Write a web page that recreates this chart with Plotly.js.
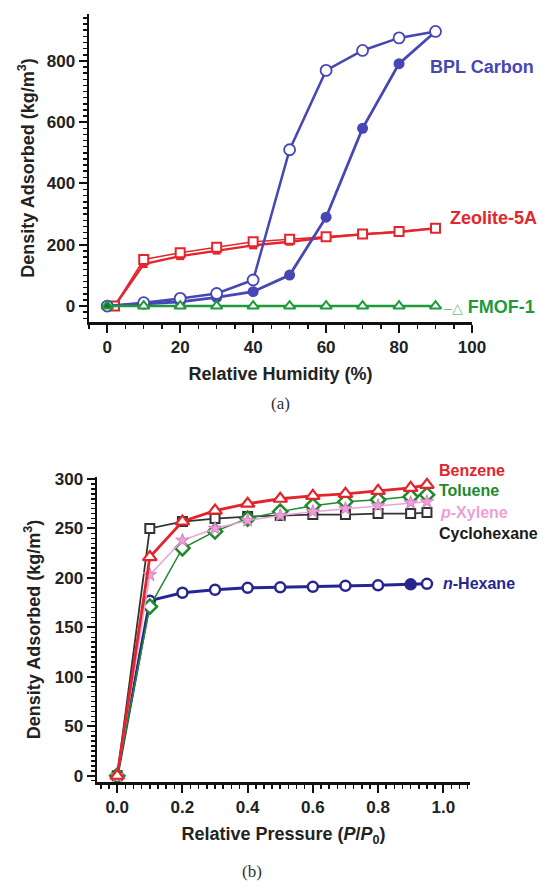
<!DOCTYPE html>
<html>
<head>
<meta charset="utf-8">
<script src="https://cdn.plot.ly/plotly-3.0.1.min.js"></script>
<style>html,body{margin:0;padding:0;background:#fff;}#chart{width:539px;height:885px;}</style>
</head>
<body>
<div id="chart"></div>
<script>
// ---- Panel (a): water adsorption vs relative humidity ----
const rh = [0, 10, 20, 30, 40, 50, 60, 70, 80, 90];
const bplAdsorption = [0, 6, 14, 28, 47, 101, 290, 580, 791, 896];
const bplDesorption = [0, 11, 25, 41, 85, 510, 769, 834, 875, 896];
const zeoRh = [2, 10, 20, 30, 40, 50, 60, 70, 80, 90];
const zeoAdsorption = [0, 137, 163, 181, 198, 210, 224, 234, 242, 254];
const zeoDesorption = [0, 152, 174, 192, 210, 218, 226, 235, 243, 254];
const fmof = [0, 0, 0, 0, 0, 0, 0, 0, 0, 0];

// ---- Panel (b): hydrocarbon adsorption vs relative pressure ----
const pp0 = [0, 0.1, 0.2, 0.3, 0.4, 0.5, 0.6, 0.7, 0.8, 0.9, 0.95];
const benzene = [0, 221, 257, 268, 275, 280, 283, 285, 288, 291, 294];
const toluene = [0, 171, 230, 247, 260, 267, 273, 277, 279, 282, 284];
const pXylene = [0, 203, 238, 250, 258, 263, 267, 270, 273, 276, 277];
const cyclohexane = [0, 250, 257, 260, 262, 263, 264, 264, 265, 265, 266];
const nHexane = [0, 177, 185, 188, 190, 190.5, 191, 192, 192.5, 193.5, 194];

const blueA = '#4646b4', redA = '#e5252d', greenA = '#1e9a3c';
const redB = '#e3242b', greenB = '#1d8a2c', pinkB = '#eba0d6', blackB = '#333333', navyB = '#26268e';

const traces = [
  // panel a
  {x: zeoRh, y: zeoAdsorption, xaxis:'x', yaxis:'y', mode:'lines+markers',
   line:{color:redA, width:2.5}, marker:{symbol:'square', size:8, color:redA}},
  {x: zeoRh, y: zeoDesorption, xaxis:'x', yaxis:'y', mode:'lines+markers',
   line:{color:redA, width:1.5}, marker:{symbol:'square', size:9, color:'#ffffff', line:{width:2, color:redA}}},
  {x: rh, y: bplAdsorption, xaxis:'x', yaxis:'y', mode:'lines+markers',
   line:{color:blueA, width:2.8}, marker:{symbol:'circle', size:11, color:blueA}},
  {x: rh, y: bplDesorption, xaxis:'x', yaxis:'y', mode:'lines+markers',
   line:{color:blueA, width:2.5}, marker:{symbol:'circle', size:11, color:'#ffffff', line:{width:1.8, color:blueA}}},
  {x: rh, y: fmof, xaxis:'x', yaxis:'y', mode:'lines+markers',
   line:{color:greenA, width:2.5},
   marker:{symbol:'triangle-up', size:10, color: rh.map((v,i)=> i===0 ? '#1a6e2c' : '#ffffff'), line:{width:2, color:greenA}}},
  // panel b
  {x: pp0, y: cyclohexane, xaxis:'x2', yaxis:'y2', mode:'lines+markers',
   line:{color:blackB, width:1.8}, marker:{symbol:'square', size:9, color:'#ffffff', line:{width:2, color:blackB}}},
  {x: pp0, y: nHexane, xaxis:'x2', yaxis:'y2', mode:'lines+markers',
   line:{color:navyB, width:3}, marker:{symbol:'circle', size:10, color: pp0.map((v,i)=> i===9 ? navyB : '#ffffff'), line:{width:2.5, color:navyB}}},
  {x: pp0, y: toluene, xaxis:'x2', yaxis:'y2', mode:'lines+markers',
   line:{color:greenB, width:1.5}, marker:{symbol:'diamond', size:11, color:'#ffffff', line:{width:2.5, color:greenB}}},
  {x: pp0, y: pXylene, xaxis:'x2', yaxis:'y2', mode:'lines+markers',
   line:{color:pinkB, width:1.5}, marker:{symbol:'star', size:10, color:pinkB, line:{width:1, color:'#d67fc0'}}},
  {x: pp0, y: benzene, xaxis:'x2', yaxis:'y2', mode:'lines+markers',
   line:{color:redB, width:2.8}, marker:{symbol:'triangle-up', size:12, color:'#ffffff', line:{width:2.2, color:redB}}}
];

const tickFont = {family:'Liberation Sans, Arial, sans-serif', size:17, color:'#222', weight:700};
const titleFont = {family:'Liberation Sans, Arial, sans-serif', size:18, color:'#222', weight:700};
function ax(extra) {
  return Object.assign({
    showline:true, linewidth:2.5, linecolor:'#111', mirror:false,
    ticks:'outside', ticklen:8, tickwidth:2, tickcolor:'#111',
    showgrid:false, zeroline:false, tickfont:tickFont, fixedrange:true
  }, extra);
}
const minorTick = d => ({dtick:d, ticks:'outside', ticklen:4, tickwidth:1.5, tickcolor:'#111', showgrid:false});

const W = 539, H = 885;
const px = v => v / W, py = v => 1 - v / H;
const labFontA = c => ({family:'Liberation Sans, Arial, sans-serif', size:18, color:c, weight:700});
const labFontB = c => ({family:'Liberation Sans, Arial, sans-serif', size:16, color:c, weight:700});
const serif = {family:'Liberation Serif, Times New Roman, serif', size:17, color:'#333'};

const layout = {
  width: W, height: H, margin:{l:0, r:0, t:0, b:0},
  paper_bgcolor:'#ffffff', plot_bgcolor:'#ffffff', showlegend:false,
  xaxis: ax({domain:[px(89), px(472)], range:[-5, 100], tick0:0, dtick:20, minor:minorTick(5),
    anchor:'y', title:{text:'Relative Humidity (%)', font:titleFont, standoff:12}}),
  yaxis: ax({domain:[py(322), py(14)], range:[-52, 953], tick0:0, dtick:200, minor:minorTick(20),
    anchor:'x', title:{text:'Density Adsorbed (kg/m<sup>3</sup>)', font:titleFont, standoff:8}}),
  xaxis2: ax({domain:[px(97), px(470)], range:[-0.062, 1.082], tick0:0, dtick:0.2, tickformat:'.1f', minor:minorTick(0.025),
    anchor:'y2', title:{text:'Relative Pressure (<i>P</i>/<i>P</i><sub>0</sub>)', font:titleFont, standoff:12}}),
  yaxis2: ax({domain:[py(782), py(477)], range:[-6.3, 302], tick0:0, dtick:50, minor:minorTick(5),
    anchor:'x2', title:{text:'Density Adsorbed (kg/m<sup>3</sup>)', font:titleFont, standoff:10}}),
  annotations: [
    {xref:'paper', yref:'paper', x:px(428), y:py(67), xanchor:'left', yanchor:'middle', showarrow:false, text:'BPL Carbon', font:labFontA(blueA)},
    {xref:'paper', yref:'paper', x:px(448), y:py(218), xanchor:'left', yanchor:'middle', showarrow:false, text:'Zeolite-5A', font:labFontA(redA)},
    {xref:'paper', yref:'paper', x:px(442), y:py(307), xanchor:'left', yanchor:'middle', showarrow:false,
     text:'<span style="color:#6fbf85;font-weight:400;font-size:14px">–△</span> FMOF-1', font:labFontA(greenA)},
    {xref:'paper', yref:'paper', x:px(280), y:py(403), xanchor:'center', yanchor:'middle', showarrow:false, text:'(a)', font:serif},
    {xref:'paper', yref:'paper', x:px(437), y:py(470), xanchor:'left', yanchor:'middle', showarrow:false, text:'Benzene', font:labFontB(redB)},
    {xref:'paper', yref:'paper', x:px(437), y:py(490), xanchor:'left', yanchor:'middle', showarrow:false, text:'Toluene', font:labFontB(greenB)},
    {xref:'paper', yref:'paper', x:px(438), y:py(512), xanchor:'left', yanchor:'middle', showarrow:false, text:'<i>p</i>-Xylene', font:labFontB(pinkB)},
    {xref:'paper', yref:'paper', x:px(437), y:py(533), xanchor:'left', yanchor:'middle', showarrow:false, text:'Cyclohexane', font:labFontB('#1a1a1a')},
    {xref:'paper', yref:'paper', x:px(441), y:py(583), xanchor:'left', yanchor:'middle', showarrow:false, text:'<i>n</i>-Hexane', font:labFontB(navyB)},
    {xref:'paper', yref:'paper', x:px(252), y:py(871), xanchor:'center', yanchor:'middle', showarrow:false, text:'(b)', font:serif}
  ]
};

Plotly.newPlot('chart', traces, layout, {staticPlot:true, displayModeBar:false});
</script>
</body>
</html>
